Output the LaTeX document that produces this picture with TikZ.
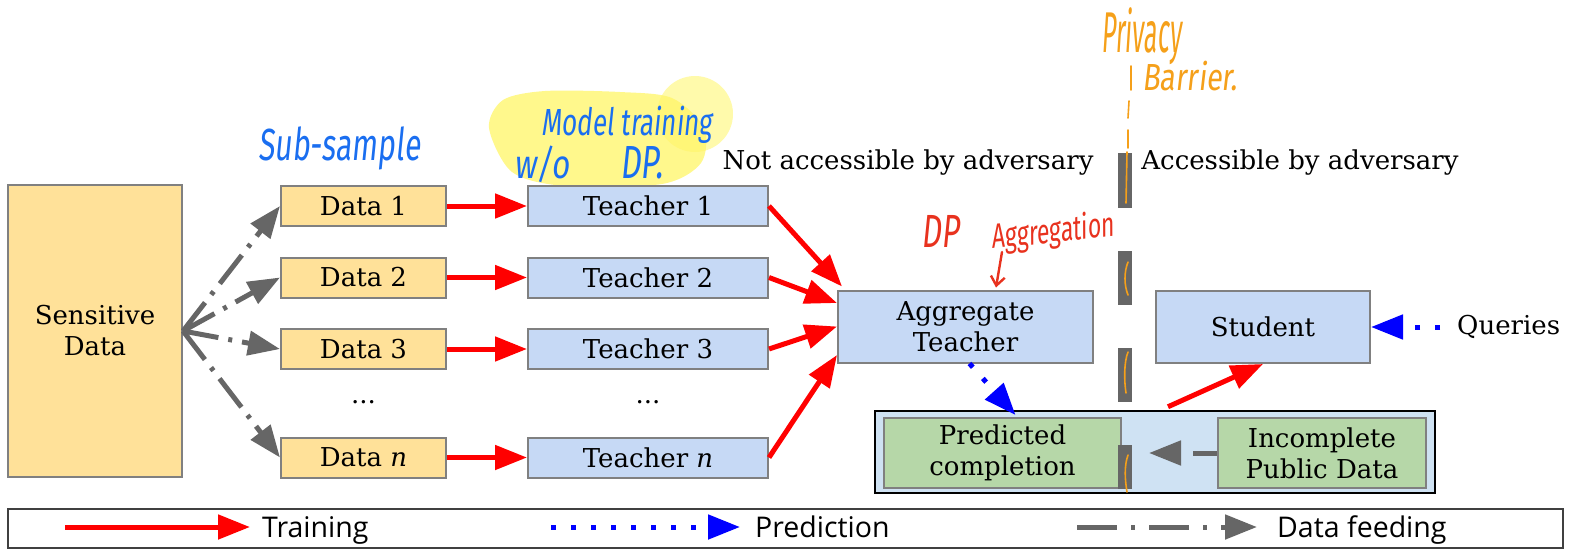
\documentclass[tikz,border=0pt]{standalone}
\usepackage{fontspec}
\setmainfont{DejaVu Serif}
\newfontfamily\legendfont{Open Sans}
\IfFontExistsTF{FiraSans-LightItalic.otf}
  {\newfontfamily\handfont{FiraSans-LightItalic.otf}}
  {\newfontfamily\handfont{Fira Sans}[UprightFeatures={FakeSlant=0.15}]}
\usetikzlibrary{arrows.meta}

\definecolor{dataorange}{HTML}{FFE199}
\definecolor{teachblue}{HTML}{C6D9F5}
\definecolor{pubgreen}{HTML}{B6D7A8}
\definecolor{pubback}{HTML}{CFE2F3}
\definecolor{boxgray}{HTML}{808080}
\definecolor{feedgray}{HTML}{666666}
\definecolor{barriergray}{HTML}{666666}
\definecolor{inkblue}{HTML}{1A6EF0}
\definecolor{inkred}{HTML}{E8321E}
\definecolor{inkorange}{HTML}{F5A01A}
\definecolor{hl}{HTML}{FFF566}

\newcommand{\mainsize}{\fontsize{26}{31}\selectfont}
% hand lettering: size, vertical stretch, text
\newcommand{\scrawl}[3]{{\handfont\fontsize{#1}{#1}\selectfont\scalebox{1}[#2]{#3}}}

\tikzset{
  box/.style={draw=boxgray, line width=2pt, inner sep=0pt, align=center, font=\mainsize},
  databox/.style={box, fill=dataorange, minimum width=165pt, minimum height=40pt},
  teachbox/.style={box, fill=teachblue, minimum width=240pt, minimum height=40pt},
  bigbox/.style={box, fill=teachblue, minimum height=72pt},
  pubbox/.style={box, fill=pubgreen, minimum height=70pt},
  tip/.style={-{Triangle[length=32pt,width=24pt]}},
  train/.style={draw=red, line width=5pt, tip},
  feed/.style={draw=feedgray, line width=5pt, dash pattern=on 36pt off 10pt on 4pt off 10pt, tip},
  predict/.style={draw=blue, line width=5pt, dash pattern=on 5pt off 15pt, tip},
  plain/.style={inner sep=0pt, font=\mainsize},
  hand/.style={inner sep=0pt, anchor=base west},
  barrier/.style={fill=barriergray},
  pen/.style={draw=inkorange, line width=1.6pt, line cap=round},
  legendlabel/.style={inner sep=0pt, anchor=base west, font=\legendfont\fontsize{28.5}{32}\selectfont},
}

\begin{document}
\begin{tikzpicture}[x=1pt,y=-1pt]
\useasboundingbox (0,0) rectangle (1572,550);

% highlighter marks behind the teacher annotation
\fill[hl, opacity=0.75] plot[smooth cycle] coordinates {(489,128) (503,100) (545,91) (620,92) (672,98) (704,128) (701,163) (662,184) (565,186) (512,172)};
\fill[hl, opacity=0.55] (695,114) circle (38);

% sensitive data and its partitions
\node[box, fill=dataorange, minimum width=174pt, minimum height=292pt] (sens) at (95,331) {Sensitive\\Data};
\node[databox] (d1) at (363.5,206) {Data 1};
\node[databox] (d2) at (363.5,277.5) {Data 2};
\node[databox] (d3) at (363.5,349) {Data 3};
\node[databox] (dn) at (363.5,457.5) {Data \textit{n}};
\node[plain] (ddots) at (363.5,402) {...};

% teachers
\node[teachbox] (t1) at (648,206) {Teacher 1};
\node[teachbox] (t2) at (648,277.5) {Teacher 2};
\node[teachbox] (t3) at (648,349) {Teacher 3};
\node[teachbox] (tn) at (648,457.5) {Teacher \textit{n}};
\node[plain] (tdots) at (648,402) {...};

% aggregation and student side
\node[bigbox, minimum width=255pt] (agg) at (965.5,326.5) {Aggregate\\Teacher};
\node[bigbox, minimum width=214pt] (stu) at (1263,327) {Student};
\node[plain, anchor=west] (qry) at (1457,327) {Queries};

% public data container
\node[draw=black, line width=2.5pt, fill=pubback, minimum width=560pt, minimum height=82pt, inner sep=0pt] (pub) at (1155,452) {};
\node[pubbox, minimum width=237pt] (pred) at (1002.5,453) {Predicted\\completion};
\node[pubbox, minimum width=208pt] (inc) at (1322,453) {Incomplete\\Public Data};

% region captions
\node[plain] (notacc) at (908,163) {Not accessible by adversary};
\node[plain] (acc) at (1300,163) {Accessible by adversary};

% privacy barrier
\fill[barrier] (1118,153) rectangle (1132,208);
\fill[barrier] (1118,251) rectangle (1132,305);
\fill[barrier] (1118,348) rectangle (1132,402);
\fill[barrier] (1118,445) rectangle (1132,489);

% data feeding
\foreach \d in {d1,d2,d3,dn} \draw[feed] (sens.east) -- (\d.west);

% training
\draw[train] (d1) -- (t1);
\draw[train] (d2) -- (t2);
\draw[train] (d3) -- (t3);
\draw[train] (dn) -- (tn);
\draw[train] (t1.east) -- ([xshift=5pt,yshift=3pt]agg.north west);
\draw[train] (t2.east) -- ([yshift=23.5pt]agg.west);
\draw[train] (t3.east) -- (agg.west);
\draw[train] (tn.east) -- ([yshift=-28.5pt]agg.west);
\draw[train] ([xshift=13pt,yshift=3pt]pub.north) -- (stu.south);

% prediction
\draw[predict] ([xshift=4pt]agg.south) -- ([xshift=13pt,yshift=2pt]pred.north);
\draw[predict] ([xshift=-17pt]qry.west) -- (stu.east);

% public data feeding
\draw[feed, dash pattern=on 24pt off 40pt, shorten >=27pt] (inc.west) -- (pred.east);

% hand-written notes
\node[hand, text=inkblue] (subs) at (258,160) {\scrawl{30}{1.5}{Sub-sample}};
\node[hand, text=inkblue] (mtr) at (541,135) {\scrawl{26}{1.45}{Model training}};
\node[hand, text=inkblue] (wo) at (514,178) {\scrawl{31}{1.3}{w/o}};
\node[hand, text=inkblue] (wodp) at (620,178) {\scrawl{32}{1.45}{DP.}};
\node[hand, text=inkred] (dpn) at (921,247) {\scrawl{31}{1.5}{DP}};
\node[hand, text=inkred, rotate=6] (aggn) at (992,249) {\scrawl{23}{1.5}{Aggregation}};
\coordinate (aggpen) at (1002,252);
\draw[inkred, line width=2.4pt, line cap=round, -{Straight Barb[length=9pt,width=14pt]}] (aggpen) -- ([xshift=159pt,yshift=2pt]agg.north west);
\node[hand, text=inkorange] (priv) at (1101,52) {\scrawl{25}{2.3}{Privacy}};
\node[hand, text=inkorange] (barr) at (1142,90) {\scrawl{29}{1.3}{Barrier.}};

% pen strokes along the barrier
\draw[pen] (1131,66) -- (1131,90);
\draw[pen] (1129,101) -- (1128,118);
\draw[pen] (1128,130) -- (1128,148);
\draw[pen] (1127,152) -- (1126,203);
\draw[pen] (1128,262) .. controls (1124,272) and (1124,285) .. (1128,295);
\draw[pen] (1128,352) .. controls (1124,362) and (1124,380) .. (1126,393);
\draw[pen] (1128,455) .. controls (1124,466) and (1125,480) .. (1127,492);

% legend
\node[draw=black!75, line width=2pt, minimum width=1555pt, minimum height=39pt, inner sep=0pt] (leg) at (785.5,528.5) {};
\coordinate (l1a) at (65,527);  \coordinate (l1b) at (250,527);
\coordinate (l2a) at (551,527); \coordinate (l2b) at (740,527);
\coordinate (l3a) at (1077,527); \coordinate (l3b) at (1257,527);
\draw[train] (l1a) -- (l1b);
\node[legendlabel] (lt) at (262,537) {Training};
\draw[predict] (l2a) -- (l2b);
\node[legendlabel] (lp) at (755,537) {Prediction};
\draw[feed, dash pattern=on 40pt off 14pt on 4pt off 14pt] (l3a) -- (l3b);
\node[legendlabel] (lf) at (1277,537) {Data feeding};
\end{tikzpicture}
\end{document}
